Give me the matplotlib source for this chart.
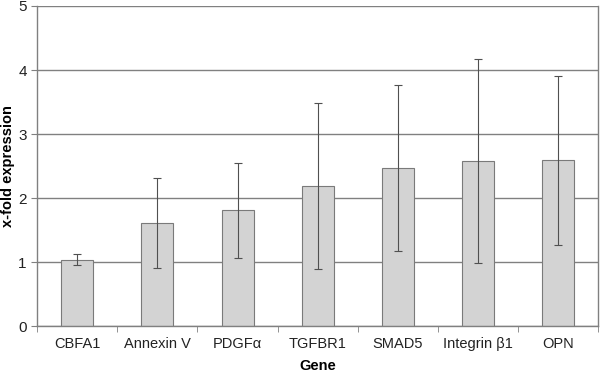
import matplotlib
matplotlib.use('Agg')
import matplotlib.pyplot as plt
import numpy as np

plt.rcParams['font.family'] = ['Liberation Sans', 'DejaVu Sans']

genes = ['CBFA1', 'Annexin V', 'PDGFα', 'TGFBR1', 'SMAD5', 'Integrin β1', 'OPN']
fold = [1.04, 1.61, 1.81, 2.19, 2.47, 2.58, 2.59]
err = [0.09, 0.70, 0.74, 1.30, 1.30, 1.59, 1.32]

fig = plt.figure(figsize=(6, 3.74), dpi=100)
ax = fig.add_axes([0.062, 0.128, 0.935, 0.856])

x = np.arange(len(genes))
ax.set_axisbelow(True)
ax.yaxis.grid(True, color='#808080', linewidth=1.0)
ax.bar(x, fold, width=0.4, color='#d3d3d3', edgecolor='#7a7a7a', linewidth=0.8, zorder=2)
ax.errorbar(x, fold, yerr=err, fmt='none', ecolor='#505050', elinewidth=0.8,
            capsize=3, capthick=0.8, zorder=3)

ax.set_xlim(-0.5, len(genes) - 0.5)
ax.set_ylim(0, 5)
ax.set_yticks(range(6))
ax.set_xticks(x)
ax.set_xticklabels(genes, fontsize=10.5, color='#222222')
ax.set_xticks(np.arange(-0.5, len(genes), 1.0), minor=True)
ax.tick_params(axis='x', which='major', length=0, pad=8)
ax.tick_params(axis='x', which='minor', length=4, color='#808080', direction='out')
ax.tick_params(axis='y', length=4, color='#808080', labelsize=11, labelcolor='#222222')

for s in ['left', 'bottom', 'right', 'top']:
    ax.spines[s].set_color('#808080')
    ax.spines[s].set_linewidth(1.0)
ax.spines['top'].set_visible(False)

ax.set_ylabel('x-fold expression', fontsize=10.5, fontweight='bold')
ax.yaxis.set_label_coords(-0.040, 0.5)
ax.set_xlabel('Gene', fontsize=10.5, fontweight='bold')
ax.xaxis.set_label_coords(0.5, -0.102)

fig.savefig('out.png', dpi=100)
